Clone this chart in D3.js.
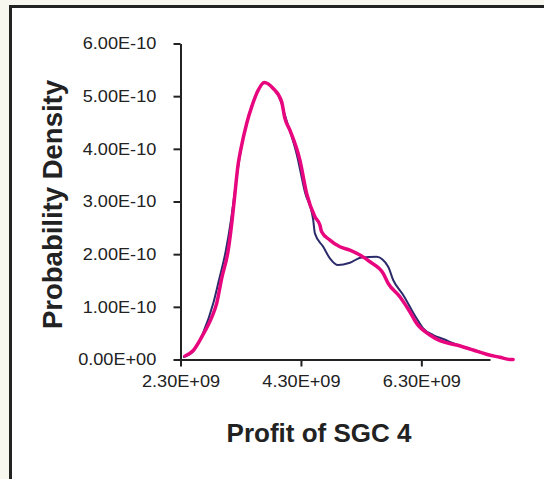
<!DOCTYPE html>
<meta charset="utf-8">
<style>
    body { margin: 0; background: #f7f6ef; }
    svg { display: block; }
    .axis path, .axis line { stroke: #222; stroke-width: 2px; }
    .axis text { fill: #222; font-family: "Liberation Sans", Arial, sans-serif; font-size: 16.5px; }
    .title { fill: #222; font-family: "Liberation Sans", Arial, sans-serif; font-weight: bold; }
</style>
<svg width="544" height="479"></svg>
<script src="https://d3js.org/d3.v7.min.js"></script>
<script>

    // profit in units of 1E+09, density in units of 1E-10
    var navyX = [2.342, 2.507, 2.673, 2.844, 2.939, 3.055, 3.138, 3.205, 3.288, 3.399, 3.487, 3.591, 3.686, 3.835, 3.968, 4.034, 4.234, 4.366, 4.504, 4.532, 4.670, 4.781, 4.919, 5.113, 5.307, 5.556, 5.749, 5.832, 5.998, 6.220, 6.330, 6.496, 6.662, 6.884, 7.160, 7.382, 7.603, 7.769, 7.824];
    var navyY = [0.047, 0.150, 0.500, 1.066, 1.509, 2.078, 2.647, 3.216, 3.880, 4.482, 4.829, 5.114, 5.266, 5.152, 4.905, 4.640, 3.880, 3.178, 2.647, 2.395, 2.140, 1.920, 1.793, 1.837, 1.939, 1.951, 1.761, 1.509, 1.224, 0.782, 0.592, 0.465, 0.389, 0.285, 0.185, 0.100, 0.045, 0.005, 0.0];

    var pinkX = [2.375, 2.512, 2.678, 2.818, 2.901, 2.984, 3.093, 3.138, 3.188, 3.259, 3.299, 3.399, 3.482, 3.591, 3.691, 3.840, 3.980, 4.034, 4.117, 4.283, 4.395, 4.532, 4.615, 4.644, 4.781, 4.947, 5.113, 5.280, 5.446, 5.666, 5.749, 5.943, 6.109, 6.220, 6.441, 6.607, 6.884, 7.160, 7.382, 7.603, 7.769, 7.824];
    var pinkY = [0.066, 0.170, 0.480, 0.800, 1.066, 1.541, 2.078, 2.457, 2.970, 3.723, 3.975, 4.482, 4.797, 5.114, 5.260, 5.146, 4.892, 4.577, 4.355, 3.786, 3.154, 2.710, 2.552, 2.425, 2.268, 2.140, 2.078, 1.983, 1.856, 1.636, 1.446, 1.192, 0.907, 0.687, 0.465, 0.357, 0.275, 0.180, 0.099, 0.042, 0.0, 0.0];

    var xTicks = [2.3, 4.3, 6.3];
    var yTicks = [0, 1, 2, 3, 4, 5, 6];

    var svg = d3.select("svg");

    // white plot area with the dark frame
    svg.append("rect")
        .attr("x", 10.5).attr("y", 6.5)
        .attr("width", 560).attr("height", 500)
        .attr("fill", "#fff")
        .attr("stroke", "#222")
        .attr("stroke-width", 3);

    var x = d3.scaleLinear().domain([2.3, 7.44]).range([180.5, 490]);
    var y = d3.scaleLinear().domain([0, 6]).range([359.5, 43.5]);

    function expFmt(v, sign, pow) {
        return v.toFixed(2) + "E" + sign + (pow < 10 ? "0" : "") + pow;
    }

    var xAxis = svg.append("g")
        .attr("class", "axis")
        .attr("transform", "translate(0,359.5)")
        .call(d3.axisBottom(x).tickValues(xTicks).tickSize(7).tickSizeOuter(0).tickPadding(9)
            .tickFormat(function (d) { return expFmt(d, "+", 9); }));

    var yAxis = svg.append("g")
        .attr("class", "axis")
        .attr("transform", "translate(180.5,0)")
        .call(d3.axisLeft(y).tickValues(yTicks).tickSize(7).tickSizeOuter(0).tickPadding(15)
            .tickFormat(function (d) { return d === 0 ? "0.00E+00" : expFmt(d, "-", 10); }));

    // the original labels are drawn a little wide
    xAxis.selectAll(".tick text").attr("transform", "scale(1.1,1)");
    yAxis.selectAll(".tick text").attr("transform", "scale(1.1,1)");

    var line = d3.line()
        .curve(d3.curveMonotoneX)
        .x(function (d) { return x(d[0]); })
        .y(function (d) { return y(d[1]); });

    svg.append("path")
        .datum(d3.zip(navyX, navyY))
        .attr("fill", "none")
        .attr("stroke", "#2b2b6b")
        .attr("stroke-width", 2)
        .attr("stroke-linejoin", "round")
        .attr("d", line);

    svg.append("path")
        .datum(d3.zip(pinkX, pinkY))
        .attr("fill", "none")
        .attr("stroke", "#e8067f")
        .attr("stroke-width", 3.5)
        .attr("stroke-linejoin", "round")
        .attr("stroke-linecap", "round")
        .attr("d", line);

    svg.append("text")
        .attr("class", "title")
        .style("font-size", "26px")
        .attr("x", 319)
        .attr("y", 442)
        .attr("text-anchor", "middle")
        .text("Profit of SGC 4");

    svg.append("text")
        .attr("class", "title")
        .style("font-size", "27.5px")
        .attr("transform", "translate(62,204.5) rotate(-90)")
        .attr("text-anchor", "middle")
        .text("Probability Density");

</script>
